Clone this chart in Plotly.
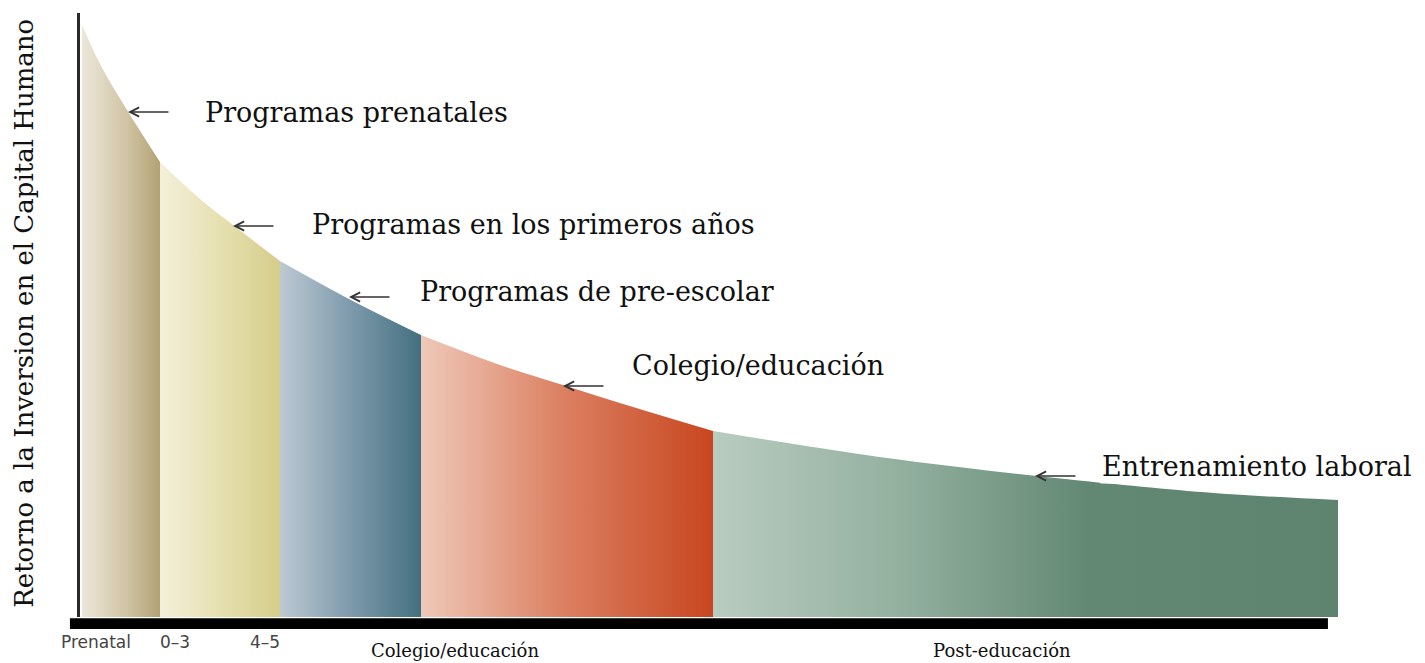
import plotly.graph_objects as go

# horizontal position along the life cycle (arbitrary units) and return level
curve_x = [2, 20, 47, 80, 120, 153, 200, 269, 341, 420, 483, 553, 633, 720, 807, 920, 994, 1134, 1258]
curve_y = [592, 553, 507, 455, 418, 392, 356, 318, 282, 252, 232, 210, 186, 172, 159, 145, 137, 124, 117]

stage_edges = [2, 80, 200, 341, 633, 1258]
stage_colors = [
    [[0, '#ECE7DA'], [0.6, '#CFC2A0'], [1, '#B3A275']],
    [[0, '#F4F0DA'], [0.5, '#E6E0B0'], [1, '#D5CD8A']],
    [[0, '#BDC9D3'], [0.5, '#7E9AAC'], [1, '#43707F']],
    [[0, '#EFC9B9'], [0.5, '#DB7E5F'], [1, '#C8461F']],
    [[0, '#B9CCC0'], [0.3, '#93B09F'], [0.6, '#628873'], [1, '#5E8470']],
]

age_ticks = [16, 95, 185]
age_labels = ['Prenatal', '0–3', '4–5']
stage_names = ['Colegio/educación', 'Post-educación']
stage_name_x = [375, 922]

programs = ['Programas prenatales', 'Programas en los primeros años', 'Programas de pre-escolar',
            'Colegio/educación', 'Entrenamiento laboral']
arrow_x = [48, 153, 269, 483, 955]
arrow_y = [505, 391, 320, 231, 141]
label_x = [123, 230, 338, 550, 1020]
label_y = [505, 393, 326, 252, 151]

SERIF = 'DejaVu Serif'

fig = go.Figure()

for i in range(len(stage_colors)):
    lo, hi = stage_edges[i], stage_edges[i + 1]
    xs = [x for x in curve_x if lo <= x <= hi]
    ys = [y for x, y in zip(curve_x, curve_y) if lo <= x <= hi]
    fig.add_trace(go.Scatter(
        x=xs, y=ys,
        mode='lines',
        line=dict(width=0, shape='spline'),
        fill='tozeroy',
        fillgradient=dict(type='horizontal', colorscale=stage_colors[i], start=lo, stop=hi),
        hoverinfo='skip',
        showlegend=False,
    ))

# arrows pointing at the curve
for ax_, ay_ in zip(arrow_x, arrow_y):
    fig.add_annotation(x=ax_, y=ay_, text='', showarrow=True, ax=42, ay=0,
                       arrowhead=5, arrowsize=1.2, arrowwidth=1.5, arrowcolor='#333333')

for i, txt in enumerate(programs):
    fig.add_annotation(x=label_x[i], y=label_y[i], text=txt, showarrow=False,
                       xanchor='left', yanchor='middle',
                       font=dict(family=SERIF, size=27, color='#111111'),
                       bgcolor='white' if i == len(programs) - 1 else None)

for name, xpos in zip(stage_names, stage_name_x):
    fig.add_annotation(x=xpos, y=-0.056, yref='paper', text=name, showarrow=False,
                       xanchor='center', yanchor='middle',
                       font=dict(family=SERIF, size=18, color='#111111'))

# y axis title
fig.add_annotation(x=-0.044, y=0.503, xref='paper', yref='paper', textangle=-90,
                   text='Retorno a la Inversion en el Capital Humano', showarrow=False,
                   xanchor='center', yanchor='middle',
                   font=dict(family=SERIF, size=26, color='#111111'))

# thick black baseline
fig.add_shape(type='rect', xref='paper', yref='paper',
              x0=-0.008, x1=0.992, y0=-0.002, y1=-0.02,
              fillcolor='black', line=dict(width=0))

fig.update_layout(
    width=1425, height=663,
    margin=dict(l=80, r=87, t=13, b=46),
    plot_bgcolor='white', paper_bgcolor='white',
    xaxis=dict(range=[0, 1258], showgrid=False, zeroline=False, showline=False,
               automargin=False,
               tickvals=age_ticks, ticktext=age_labels, ticks='',
               ticklabelstandoff=13,
               tickfont=dict(family='DejaVu Sans', size=17, color='#444444')),
    yaxis=dict(range=[0, 604], showgrid=False, zeroline=False, showticklabels=False,
               automargin=False,
               showline=True, linewidth=3, linecolor='#2a2a2a', ticks=''),
)

fig.write_html('out.html', config={'displayModeBar': False},
               post_script="document.body.style.margin='0px';")
